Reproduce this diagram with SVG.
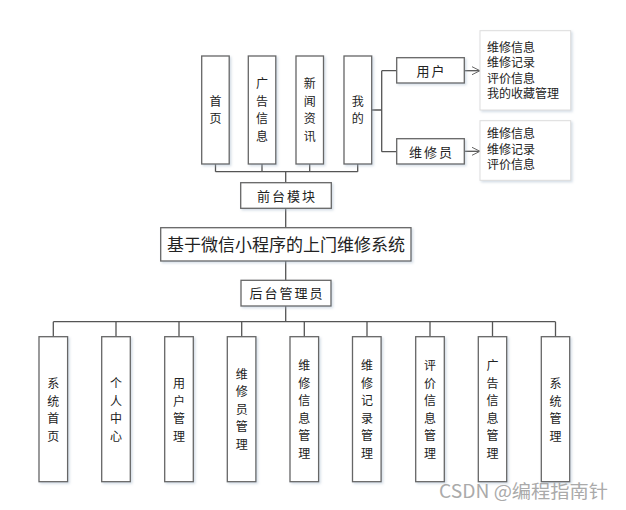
<svg xmlns="http://www.w3.org/2000/svg" width="626" height="510" viewBox="0 0 626 510">
<defs>
<filter id="sh" x="-20%" y="-20%" width="150%" height="150%">
<feDropShadow dx="1.5" dy="1.5" stdDeviation="1.2" flood-color="#9fb3c8" flood-opacity="0.45"/>
</filter>
<marker id="arr" markerWidth="10" markerHeight="10" refX="9" refY="5" orient="auto" markerUnits="userSpaceOnUse">
<path d="M1,1 L9,5 L1,9" fill="none" stroke="#666" stroke-width="1"/>
</marker>
</defs>
<style>
.box{fill:#fff;stroke:#666;stroke-width:1.3;filter:url(#sh)}
.info{fill:#fff;stroke:#ddd;stroke-width:1;filter:url(#sh)}
.ln{fill:none;stroke:#555;stroke-width:1.3}
text{font-family:"Noto Sans CJK SC","Noto Sans",sans-serif;fill:#222}
.v{font-size:12px;text-anchor:middle}
.h{font-size:13px;text-anchor:middle;letter-spacing:2px}
.t{font-size:12px}
.title{font-size:17px;text-anchor:middle}
.wm{font-size:18px;fill:#aaa}
</style>
<rect width="626" height="510" fill="#fff"/>
<g id="connectors">
<path class="ln" d="M215.5,164 V171.7 M262,164 V171.7 M309.7,164 V171.7 M357.7,164 V171.7 M215.5,171.7 H357.7 M285.7,171.7 V182.7"/>
<path class="ln" d="M285.7,208.3 V227.7 M285.7,261 V280.3 M285.7,306 V321.7"/>
<path class="ln" d="M372,110 H381.7 M381.7,70.7 V151.7 M381.7,70.7 H396.7 M381.7,151.7 H396.7"/>
<path class="ln" d="M464.3,70.7 H480" marker-end="url(#arr)"/>
<path class="ln" d="M464.3,151.3 H480" marker-end="url(#arr)"/>
<path class="ln" d="M53.3,321.7 H555.5 M53.3,321.7 V336.7 M116,321.7 V336.7 M179,321.7 V336.7 M241.7,321.7 V336.7 M304.3,321.7 V336.7 M367,321.7 V336.7 M430,321.7 V336.7 M492.5,321.7 V336.7 M555.5,321.7 V336.7"/>
</g>
<g id="n-shouye"><rect class="box" x="201.7" y="56" width="27.5" height="108"/><text class="v" x="215.5" y="105.5">首</text><text class="v" x="215.5" y="123">页</text></g>
<g id="n-guanggao"><rect class="box" x="248.3" y="56" width="27.5" height="108"/><text class="v" x="262" y="88">广</text><text class="v" x="262" y="105.5">告</text><text class="v" x="262" y="123">信</text><text class="v" x="262" y="140.5">息</text></g>
<g id="n-xinwen"><rect class="box" x="296" y="56" width="27.5" height="108"/><text class="v" x="309.7" y="88">新</text><text class="v" x="309.7" y="105.5">闻</text><text class="v" x="309.7" y="123">资</text><text class="v" x="309.7" y="140.5">讯</text></g>
<g id="n-wode"><rect class="box" x="344" y="56" width="27.7" height="108"/><text class="v" x="357.8" y="105.5">我</text><text class="v" x="357.8" y="123">的</text></g>
<g id="n-yonghu"><rect class="box" x="396.7" y="57.7" width="67.6" height="25.3"/><text class="h" x="431.5" y="75.5">用户</text></g>
<g id="n-weixiuyuan"><rect class="box" x="396.7" y="138.7" width="67.6" height="25.3"/><text class="h" x="431.5" y="156.5">维修员</text></g>
<g id="n-info1"><rect class="info" x="480" y="30.7" width="90.7" height="79.3"/>
<text class="t" x="487" y="51.5">维修信息</text><text class="t" x="487" y="67">维修记录</text><text class="t" x="487" y="82.5">评价信息</text><text class="t" x="487" y="98">我的收藏管理</text></g>
<g id="n-info2"><rect class="info" x="480" y="120.7" width="90.7" height="59.6"/>
<text class="t" x="487" y="138">维修信息</text><text class="t" x="487" y="153.5">维修记录</text><text class="t" x="487" y="169">评价信息</text></g>
<g id="n-qiantai"><rect class="box" x="240.7" y="182.7" width="90.6" height="25.6"/><text class="h" x="287" y="200.5">前台模块</text></g>
<g id="n-title"><rect class="box" x="160.7" y="227.7" width="250.3" height="33.3"/><text class="title" x="286" y="250.5">基于微信小程序的上门维修系统</text></g>
<g id="n-houtai"><rect class="box" x="241" y="280.3" width="90" height="25.7"/><text class="h" x="287" y="298">后台管理员</text></g>
<g id="n-b1"><rect class="box" x="39" y="336.7" width="28.6" height="145"/><text class="v" x="53.3" y="388">系</text><text class="v" x="53.3" y="405.5">统</text><text class="v" x="53.3" y="423">首</text><text class="v" x="53.3" y="440.5">页</text></g>
<g id="n-b2"><rect class="box" x="101.7" y="336.7" width="28.6" height="145"/><text class="v" x="116" y="388">个</text><text class="v" x="116" y="405.5">人</text><text class="v" x="116" y="423">中</text><text class="v" x="116" y="440.5">心</text></g>
<g id="n-b3"><rect class="box" x="164.7" y="336.7" width="28.6" height="145"/><text class="v" x="179" y="388">用</text><text class="v" x="179" y="405.5">户</text><text class="v" x="179" y="423">管</text><text class="v" x="179" y="440.5">理</text></g>
<g id="n-b4"><rect class="box" x="227.3" y="336.7" width="28.6" height="145"/><text class="v" x="241.7" y="378.5">维</text><text class="v" x="241.7" y="396">修</text><text class="v" x="241.7" y="413.5">员</text><text class="v" x="241.7" y="431">管</text><text class="v" x="241.7" y="448.5">理</text></g>
<g id="n-b5"><rect class="box" x="290" y="336.7" width="28.6" height="145"/><text class="v" x="304.3" y="370">维</text><text class="v" x="304.3" y="387.5">修</text><text class="v" x="304.3" y="405">信</text><text class="v" x="304.3" y="422.5">息</text><text class="v" x="304.3" y="440">管</text><text class="v" x="304.3" y="457.5">理</text></g>
<g id="n-b6"><rect class="box" x="352.5" y="336.7" width="28.6" height="145"/><text class="v" x="367" y="370">维</text><text class="v" x="367" y="387.5">修</text><text class="v" x="367" y="405">记</text><text class="v" x="367" y="422.5">录</text><text class="v" x="367" y="440">管</text><text class="v" x="367" y="457.5">理</text></g>
<g id="n-b7"><rect class="box" x="415.7" y="336.7" width="28.6" height="145"/><text class="v" x="430" y="370">评</text><text class="v" x="430" y="387.5">价</text><text class="v" x="430" y="405">信</text><text class="v" x="430" y="422.5">息</text><text class="v" x="430" y="440">管</text><text class="v" x="430" y="457.5">理</text></g>
<g id="n-b8"><rect class="box" x="478.3" y="336.7" width="28.4" height="145"/><text class="v" x="492.5" y="370">广</text><text class="v" x="492.5" y="387.5">告</text><text class="v" x="492.5" y="405">信</text><text class="v" x="492.5" y="422.5">息</text><text class="v" x="492.5" y="440">管</text><text class="v" x="492.5" y="457.5">理</text></g>
<g id="n-b9"><rect class="box" x="541.3" y="336.7" width="28.4" height="145"/><text class="v" x="555.5" y="388">系</text><text class="v" x="555.5" y="405.5">统</text><text class="v" x="555.5" y="423">管</text><text class="v" x="555.5" y="440.5">理</text></g>
<text class="wm" x="439" y="498" textLength="169" lengthAdjust="spacingAndGlyphs">CSDN @编程指南针</text>
</svg>
